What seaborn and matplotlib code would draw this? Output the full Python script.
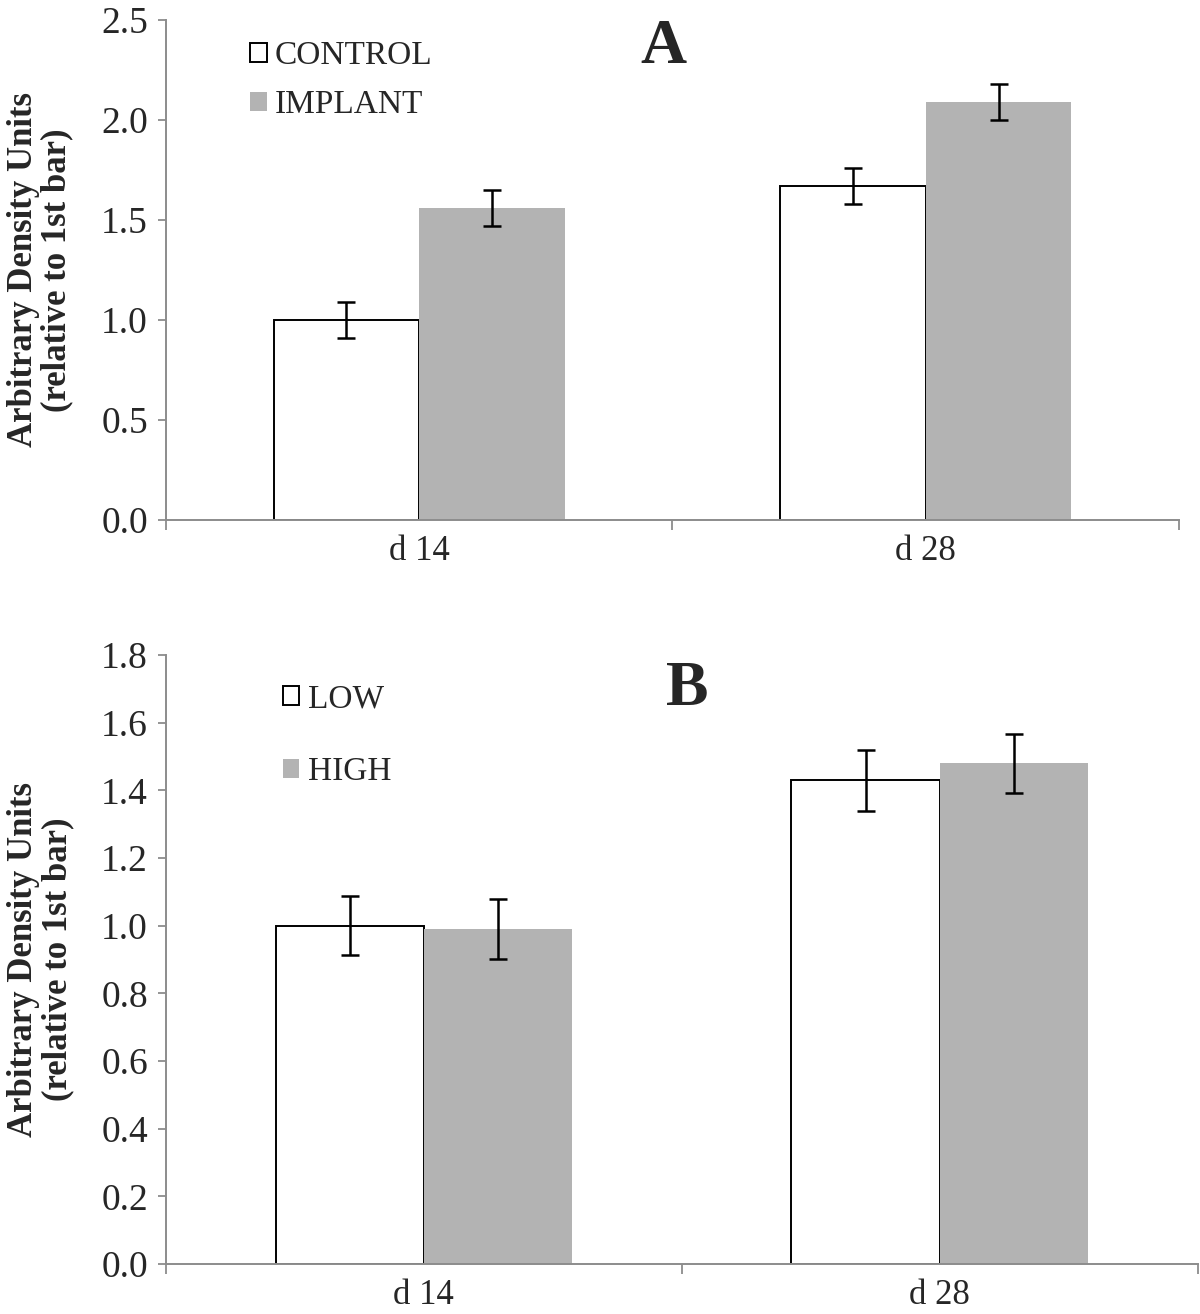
import matplotlib
matplotlib.use("Agg")
import matplotlib.pyplot as plt
import seaborn as sns
import pandas as pd
from matplotlib.ticker import FixedLocator

# data
days = ["d 14", "d 28"]

groups_a = ["CONTROL", "IMPLANT"]
control_a = [1.00, 1.67]
implant_a = [1.56, 2.09]
control_a_err = [0.09, 0.088]
implant_a_err = [0.09, 0.09]

groups_b = ["LOW", "HIGH"]
low_b = [1.00, 1.43]
high_b = [0.99, 1.48]
low_b_err = [0.088, 0.09]
high_b_err = [0.088, 0.088]

sns.set_theme(style="white")
plt.rcParams["font.family"] = ["Liberation Serif", "DejaVu Serif"]

SPINE = "#8c8c8c"
GRAY = "#b3b3b3"


def panel(ax, groups, v1, v2, e1, e2, ymax, ystep, leg_anchor, leg_spacing, lab_x):
    df = pd.DataFrame({
        "day": days * 2,
        "group": [groups[0]] * 2 + [groups[1]] * 2,
        "value": v1 + v2,
    })
    sns.barplot(data=df, x="day", y="value", hue="group", hue_order=groups,
                palette=["white", GRAY], width=0.575, gap=0, errorbar=None,
                legend=False, saturation=1, ax=ax)
    bars1, bars2 = ax.containers[0], ax.containers[1]
    for p in bars1:
        p.set_edgecolor("black")
        p.set_linewidth(1.4)
    for p in bars2:
        p.set_edgecolor("none")

    # error bars placed on the bars drawn by seaborn
    for bars, errs in ((bars1, e1), (bars2, e2)):
        xs = [p.get_x() + p.get_width() / 2 for p in bars]
        ys = [p.get_height() for p in bars]
        ax.errorbar(xs, ys, yerr=errs, fmt="none", ecolor="black",
                    elinewidth=1.8, capsize=6.5, capthick=1.8, zorder=5)

    ax.legend([bars1[0], bars2[0]], groups, loc="upper left",
              bbox_to_anchor=leg_anchor, frameon=False, fontsize=24,
              handlelength=0.5, handleheight=0.5, handletextpad=0.25,
              labelspacing=leg_spacing, borderpad=0, borderaxespad=0)

    ax.set_xlim(-0.5, 1.5)
    ax.set_ylim(0, ymax)
    yt = [round(i * ystep, 2) for i in range(int(round(ymax / ystep)) + 1)]
    ax.set_yticks(yt)
    ax.set_yticklabels([f"{t:.1f}" for t in yt], fontsize=27)
    ax.set_xticks([0, 1])
    ax.set_xticklabels(days, fontsize=25)
    ax.xaxis.set_minor_locator(FixedLocator([-0.5, 0.5, 1.5]))
    ax.tick_params(axis="x", which="major", length=0, pad=11)
    ax.tick_params(axis="x", which="minor", length=7, width=1.3, color=SPINE, bottom=True)
    ax.tick_params(axis="y", which="major", length=6, width=1.3, color=SPINE, pad=7, left=True)
    for s in ["top", "right"]:
        ax.spines[s].set_visible(False)
    for s in ["left", "bottom"]:
        ax.spines[s].set_color(SPINE)
        ax.spines[s].set_linewidth(1.4)
    ax.set_xlabel("")
    ax.set_ylabel("Arbitrary Density Units\n(relative to 1st bar)",
                  fontsize=25, fontweight="bold", linespacing=1.05)
    ax.yaxis.set_label_coords(lab_x, 0.5)
    return ax


fig = plt.figure(figsize=(12, 13.14), dpi=100)
ax_a = fig.add_axes([0.1383, 0.6043, 0.9825 - 0.1383, 0.9848 - 0.6043])
ax_b = fig.add_axes([0.1383, 0.0381, 0.998 - 0.1383, 0.5015 - 0.0381])

panel(ax_a, groups_a, control_a, implant_a, control_a_err, implant_a_err,
      2.5, 0.5, (0.083, 0.958), 0.55, -0.091)
panel(ax_b, groups_b, low_b, high_b, low_b_err, high_b_err,
      1.8, 0.2, (0.113, 0.952), 1.25, -0.089)

fig.text(0.553, 0.9635, "A", fontsize=46, fontweight="bold", ha="center", va="center")
fig.text(0.573, 0.475, "B", fontsize=46, fontweight="bold", ha="center", va="center")

fig.savefig("out.png", dpi=100)
